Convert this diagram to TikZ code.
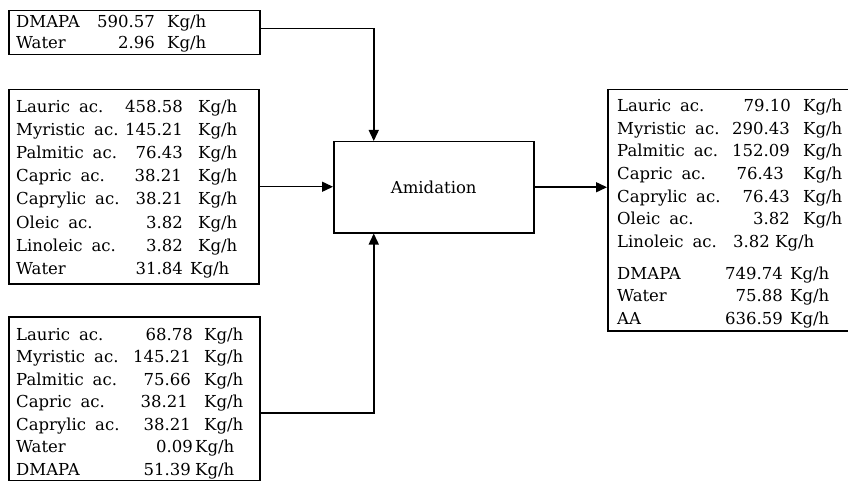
\documentclass[tikz,border=0pt]{standalone}
\usepackage{fontspec}
\setmainfont{DejaVu Serif}
\usetikzlibrary{arrows.meta}

\tikzset{
  box/.style={draw, line width=1.5pt, inner sep=0pt, anchor=north west},
  lab/.style={anchor=base west, inner sep=0pt,
    execute at begin node={\spaceskip=9pt\relax}},
  num/.style={anchor=base east, inner sep=0pt},
  unit/.style={anchor=base west, inner sep=0pt},
  arr/.style={line width=1.5pt, -{Triangle[length=11pt,width=10pt]}},
  every node/.append style={font=\fontsize{16.5}{20}\selectfont}
}

\begin{document}
\begin{tikzpicture}[x=1pt,y=-1pt]
\useasboundingbox (0,0) rectangle (848,481);

% feed and product boxes
\node[box, minimum width=251pt, minimum height=44pt]  (feedA) at (8,10)   {};
\node[box, minimum width=250pt, minimum height=194pt] (feedB) at (8,89)   {};
\node[box, minimum width=251pt, minimum height=164pt] (feedC) at (8,316)  {};
\node[box, minimum width=246pt, minimum height=241pt] (prod)  at (607,89) {};

% reactor
\node[box, minimum width=200pt, minimum height=91pt] (amid) at (333,141) {};
\node[inner sep=0pt] (amidtxt) at (amid.center) {Amidation};

% stream tables: label / value / right edge of value / start of unit / baseline
\foreach \l/\v/\xn/\xu/\y [count=\i] in {
  DMAPA/590.57/155/167/27.3,
  Water/2.96/155/167/48.5}
{ \node[lab] (al\i) at (16,\y) {\l};
  \node[num] (av\i) at (\xn,\y) {\v};
  \node[unit] (au\i) at (\xu,\y) {Kg/h}; }

\foreach \l/\v/\xn/\xu/\y [count=\i] in {
  Lauric ac./458.58/183/198/112.3,
  Myristic ac./145.21/183/198/135.5,
  Palmitic ac./76.43/183/198/158.6,
  Capric ac./38.21/182/198/181.8,
  Caprylic ac./38.21/183/198/204.9,
  Oleic ac./3.82/183/198/228.1,
  Linoleic ac./3.82/183/198/251.2,
  Water/31.84/183/190/274.4}
{ \node[lab] (bl\i) at (16,\y) {\l};
  \node[num] (bv\i) at (\xn,\y) {\v};
  \node[unit] (bu\i) at (\xu,\y) {Kg/h}; }

\foreach \l/\v/\xn/\xu/\y [count=\i] in {
  Lauric ac./68.78/193/204/340,
  Myristic ac./145.21/191/204/362.5,
  Palmitic ac./75.66/191/204/385,
  Capric ac./38.21/188/204/407.5,
  Caprylic ac./38.21/191/204/430,
  Water/0.09/193/195/452.5,
  DMAPA/51.39/191/195/475}
{ \node[lab] (cl\i) at (16,\y) {\l};
  \node[num] (cv\i) at (\xn,\y) {\v};
  \node[unit] (cu\i) at (\xu,\y) {Kg/h}; }

\foreach \l/\v/\xn/\xu/\y [count=\i] in {
  Lauric ac./79.10/791/803/111.7,
  Myristic ac./290.43/790/803/134.3,
  Palmitic ac./152.09/790/803/156.9,
  Capric ac./76.43/784/803/179.5,
  Caprylic ac./76.43/790/803/202.1,
  Oleic ac./3.82/790/803/224.7,
  Linoleic ac./3.82/770/775/247.3,
  DMAPA/749.74/783/790/279.3,
  Water/75.88/783/790/301.5,
  AA/636.59/783/790/324}
{ \node[lab] (pl\i) at (617,\y) {\l};
  \node[num] (pv\i) at (\xn,\y) {\v};
  \node[unit] (pu\i) at (\xu,\y) {Kg/h}; }

% streams
\draw[arr] ([yshift=4.3pt]feedA.east) -| ([xshift=-60pt]amid.north);
\draw[arr] (feedB.east) -- (feedB.east -| amid.west);
\draw[arr] ([yshift=-14pt]feedC.east) -| ([xshift=-60pt]amid.south);
\draw[arr] (amid.east) -- (amid.east -| prod.west);
\end{tikzpicture}
\end{document}
